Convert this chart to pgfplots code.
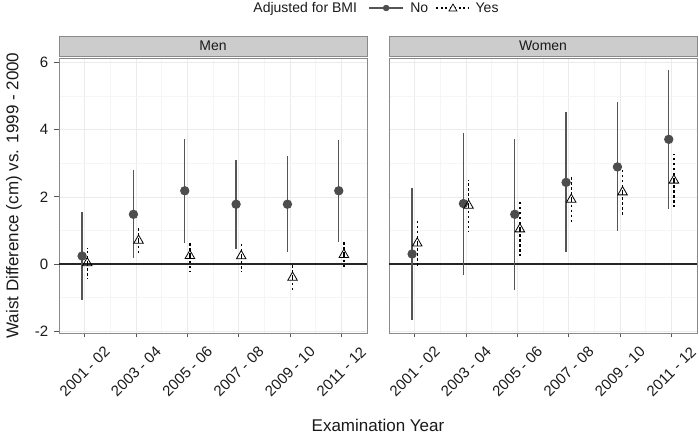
\documentclass[border=0pt]{standalone}
\usepackage{fontspec}
\setmainfont{Liberation Sans}
\usepackage{pgfplots}
\usepackage{pgfplotstable}
\pgfplotsset{compat=1.18}
\definecolor{ggdark}{HTML}{555555}
\definecolor{ggpt}{HTML}{4D4D4D}
\definecolor{ggborder}{HTML}{8A8A8A}
\definecolor{gridmaj}{HTML}{EBEBEB}
\definecolor{gridmin}{HTML}{F5F5F5}
\definecolor{stripfill}{HTML}{CCCCCC}
\definecolor{txt}{HTML}{1A1A1A}
\definecolor{zeroline}{HTML}{262626}

\pgfplotstableread{
x y lo hi
0.95 0.24 -1.06 1.55
1.95 1.48 0.17 2.79
2.95 2.18 0.63 3.73
3.95 1.78 0.46 3.11
4.95 1.78 0.36 3.20
5.95 2.18 0.67 3.70
}\menno
\pgfplotstableread{
x y lo hi
1.05 0.03 -0.43 0.49
2.05 0.70 0.26 1.13
3.05 0.25 -0.21 0.68
4.05 0.24 -0.21 0.67
5.05 -0.40 -0.76 -0.04
6.05 0.28 -0.12 0.68
}\menyes
\pgfplotstableread{
x y lo hi
0.95 0.30 -1.66 2.26
1.95 1.80 -0.33 3.90
2.95 1.48 -0.76 3.72
3.95 2.43 0.35 4.52
4.95 2.89 0.97 4.82
5.95 3.71 1.64 5.77
}\womenno
\pgfplotstableread{
x y lo hi
1.05 0.62 -0.11 1.33
2.05 1.74 0.95 2.51
3.05 1.04 0.23 1.85
4.05 1.92 1.20 2.63
5.05 2.14 1.42 2.86
6.05 2.49 1.70 3.27
}\womenyes

\pgfplotsset{
  panel/.style={
    scale only axis, width=308pt, height=275pt,
    xmin=0.5, xmax=6.5, ymin=-2.05, ymax=6.13,
    clip=false,
    xtick={1,2,3,4,5,6},
    minor xtick={1.5,2.5,3.5,4.5,5.5},
    ytick={-2,0,2,4,6},
    minor ytick={-1,1,3,5},
    xticklabels={2001 - 02,2003 - 04,2005 - 06,2007 - 08,2009 - 10,2011 - 12},
    grid=both,
    major grid style={color=gridmaj, line width=0.6pt},
    minor grid style={color=gridmin, line width=0.6pt},
    axis line style={color=ggborder, line width=0.9pt},
    tick align=outside, tick pos=left,
    major tick length=4.5pt, minor tick length=0pt,
    tick style={color=ggdark, line width=0.8pt},
    xticklabel style={yshift=-34pt, rotate=45, anchor=center, font=\fontsize{15}{17}\selectfont, text=txt},
    yticklabel style={anchor=east, inner sep=0pt, xshift=-6pt, font=\fontsize{15}{17}\selectfont, text=txt},
  },
  nostyle/.style={color=ggdark, line width=1.3pt, mark=*, mark size=4pt,
    mark options={fill=ggpt, draw=ggpt, solid},
    only marks,
    error bars/y dir=both, error bars/y explicit, error bars/error mark=none,
    error bars/error bar style={color=ggdark, line width=1.3pt, solid}},
  yesstyle/.style={color=black, line width=0.8pt, mark=triangle, mark size=5.5pt,
    mark options={draw=black, solid, fill=none},
    only marks,
    error bars/y dir=both, error bars/y explicit, error bars/error mark=none,
    error bars/error bar style={color=black, line width=1.3pt, dash pattern=on 2.5pt off 2.5pt}},
}

\begin{document}
\begin{tikzpicture}[x=1pt,y=1pt]
\useasboundingbox (0,0) rectangle (699,435);

% ---------- Men ----------
\begin{axis}[panel, at={(59pt,102pt)}, anchor=south west,
  yticklabels={-2,0,2,4,6},
  ylabel={Waist Difference (cm) vs. 1999 - 2000},
  ylabel style={at={(axis description cs:-0.146,0.5)}, rotate=0, anchor=center, font=\fontsize{17}{19}\selectfont, text=txt},
  xlabel={Examination Year},
  xlabel style={at={(axis description cs:1.0357,-0.336)}, anchor=center, font=\fontsize{17}{19}\selectfont, text=txt},
  legend style={at={(axis description cs:1.0292,1.1818)}, anchor=center, draw=none, fill=none,
    font=\fontsize{14}{16}\selectfont, text=txt, column sep=0pt,
    nodes={inner xsep=0pt, inner ysep=2pt}},
  legend columns=-1,
]
\addlegendimage{empty legend}
\addlegendentry{Adjusted for BMI}
\addlegendimage{legend image code/.code={
  \path (-12pt,0pt) (41pt,0pt);
  \draw[ggdark, line width=1.2pt] (0pt,0pt) -- (34pt,0pt);
  \fill[ggpt] (17pt,0pt) circle (3pt);}}
\addlegendentry{No}
\addlegendimage{legend image code/.code={
  \path (-8pt,0pt) (39pt,0pt);
  \draw[black, line width=1.2pt, dash pattern=on 2pt off 2.5pt] (0pt,0pt) -- (33pt,0pt);
  \draw[black, line width=0.7pt, fill=white] (16.5pt,4pt) -- (12.5pt,-3pt) -- (20.5pt,-3pt) -- cycle;}}
\addlegendentry{Yes}

\fill[stripfill, draw=ggborder, line width=0.8pt] (axis description cs:0,1.007) rectangle (axis description cs:1,1.08);
\node[font=\fontsize{14}{16}\selectfont, text=txt] at (axis description cs:0.5,1.0435) {Men};
\addplot[zeroline, line width=1.2pt, forget plot] coordinates {(0.5,0) (6.5,0)};
\addplot[nostyle, forget plot] table[x=x, y=y, y error plus expr=\thisrow{hi}-\thisrow{y}, y error minus expr=\thisrow{y}-\thisrow{lo}] {\menno};
\addplot[yesstyle, forget plot] table[x=x, y=y, y error plus expr=\thisrow{hi}-\thisrow{y}, y error minus expr=\thisrow{y}-\thisrow{lo}] {\menyes};
\end{axis}

% ---------- Women ----------
\begin{axis}[panel, at={(389pt,102pt)}, anchor=south west,
  yticklabels={}, ytick style={draw=none},
]
\fill[stripfill, draw=ggborder, line width=0.8pt] (axis description cs:0,1.007) rectangle (axis description cs:1,1.08);
\node[font=\fontsize{14}{16}\selectfont, text=txt] at (axis description cs:0.5,1.0435) {Women};
\addplot[zeroline, line width=1.2pt, forget plot] coordinates {(0.5,0) (6.5,0)};
\addplot[nostyle, forget plot] table[x=x, y=y, y error plus expr=\thisrow{hi}-\thisrow{y}, y error minus expr=\thisrow{y}-\thisrow{lo}] {\womenno};
\addplot[yesstyle, forget plot] table[x=x, y=y, y error plus expr=\thisrow{hi}-\thisrow{y}, y error minus expr=\thisrow{y}-\thisrow{lo}] {\womenyes};
\end{axis}
\end{tikzpicture}
\end{document}
